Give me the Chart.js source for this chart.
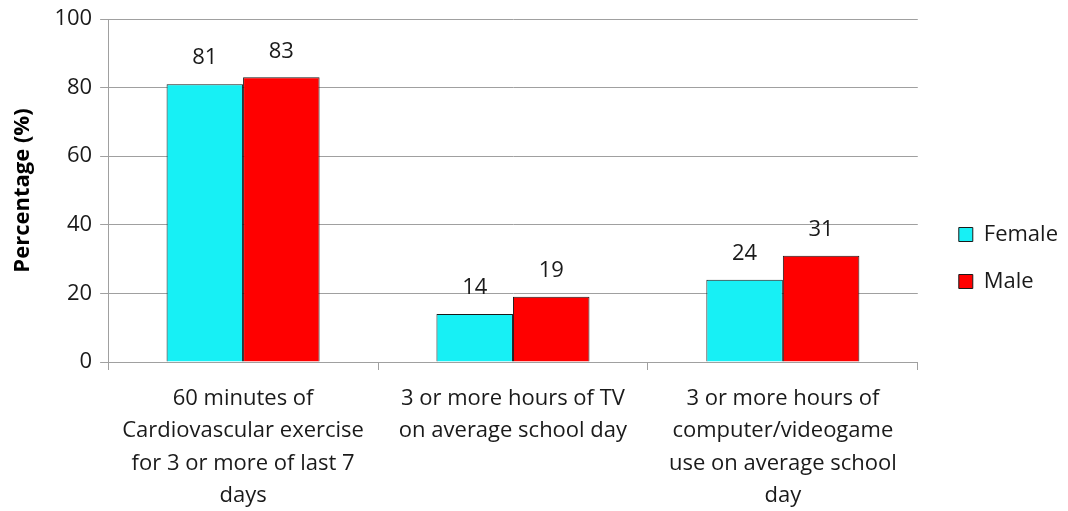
<!DOCTYPE html>
<html lang="en">
<head>
    <meta charset="UTF-8">
    <title>Percentage by sex</title>
    <style>
        body { margin: 0; background: #fff; }
        .wrap { width: 1068px; height: 511px; }
    </style>
    <script src="https://cdn.jsdelivr.net/npm/chart.js"></script>
</head>
<body>
    <div class="wrap"><canvas id="myChart" width="1068" height="511"></canvas></div>
    <script>
        const categories = [
            ['60 minutes of', 'Cardiovascular exercise', 'for 3 or more of last 7', 'days'],
            ['3 or more hours of TV', 'on average school day'],
            ['3 or more hours of', 'computer/videogame', 'use on average school', 'day']
        ];
        const femaleValues = [81, 14, 24];
        const maleValues = [83, 19, 31];
        const yTicks = [0, 20, 40, 60, 80, 100];

        const fontFamily = '"Open Sans", Lato, sans-serif';
        const textColor = '#1a1a1a';
        const gridColor = '#a0a0a0';

        // draws the value above every bar, and nudges the legend a bit right
        const valueLabels = {
            id: 'valueLabels',
            afterLayout(chart) {
                chart.legend.left += 16;
                chart.legend.right += 16;
                chart.legend.top += 2;
                chart.legend.bottom += 2;
            },
            afterDatasetsDraw(chart) {
                const ctx = chart.ctx;
                ctx.save();
                ctx.font = '22px ' + fontFamily;
                ctx.fillStyle = textColor;
                ctx.textAlign = 'center';
                ctx.textBaseline = 'bottom';
                chart.data.datasets.forEach((ds, i) => {
                    chart.getDatasetMeta(i).data.forEach((bar, j) => {
                        ctx.fillText(ds.data[j], bar.x, bar.y - 15);
                    });
                });
                ctx.restore();
            }
        };

        const ctx = document.getElementById('myChart').getContext('2d');
        new Chart(ctx, {
            type: 'bar',
            data: {
                labels: categories,
                datasets: [{
                    label: 'Female',
                    data: femaleValues,
                    backgroundColor: '#17f0f5',
                    borderColor: '#1a1a1a',
                    borderWidth: 1
                }, {
                    label: 'Male',
                    data: maleValues,
                    backgroundColor: '#ff0000',
                    borderColor: '#1a1a1a',
                    borderWidth: 1
                }]
            },
            options: {
                responsive: false,
                animation: false,
                layout: { padding: { top: 1, right: 16, left: 6, bottom: 0 } },
                datasets: {
                    bar: { categoryPercentage: 0.567, barPercentage: 1.0 }
                },
                plugins: {
                    tooltip: { enabled: false },
                    legend: {
                        position: 'right',
                        labels: {
                            font: { family: fontFamily, size: 22 },
                            color: textColor,
                            boxWidth: 14,
                            boxHeight: 14,
                            padding: 25
                        }
                    }
                },
                scales: {
                    x: {
                        afterFit(axis) {
                            axis.height = 149;
                        },
                        grid: {
                            drawOnChartArea: false,
                            drawTicks: true,
                            tickLength: 8,
                            color: gridColor
                        },
                        border: { color: gridColor },
                        ticks: {
                            font: { family: fontFamily, size: 22, lineHeight: 1.48 },
                            color: textColor,
                            maxRotation: 0,
                            autoSkip: false,
                            padding: 12
                        }
                    },
                    y: {
                        min: 0,
                        max: 100,
                        afterBuildTicks(axis) {
                            axis.ticks = yTicks.map(v => ({ value: v }));
                        },
                        grid: { color: gridColor, tickLength: 8 },
                        border: { color: gridColor },
                        ticks: {
                            font: { family: fontFamily, size: 22, lineHeight: 1.0 },
                            color: textColor,
                            padding: 8
                        },
                        title: {
                            display: true,
                            text: 'Percentage (%)',
                            font: { family: fontFamily, size: 22, weight: 'bold' },
                            color: '#000000',
                            padding: { bottom: 10 }
                        }
                    }
                }
            },
            plugins: [valueLabels]
        });
    </script>
</body>
</html>
